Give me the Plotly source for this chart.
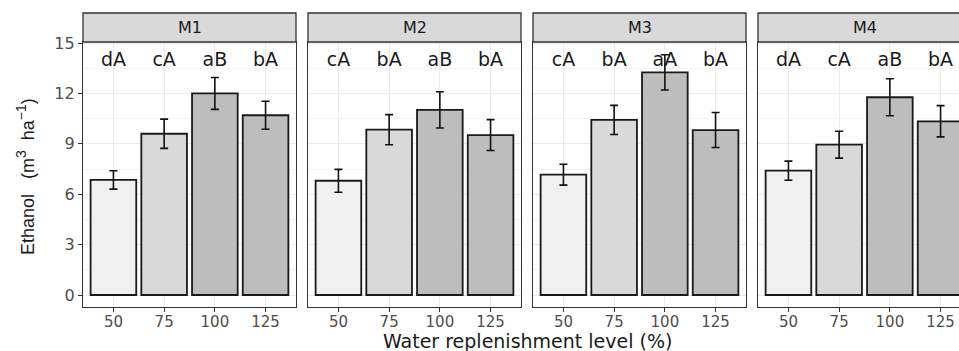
import plotly.graph_objects as go

# Water replenishment levels (%) and management systems
levels = ["50", "75", "100", "125"]
systems = ["M1", "M2", "M3", "M4"]

# Ethanol yield (m3 ha-1): means, error half-widths and letter groupings
m1_mean = [6.85, 9.6, 12.0, 10.7]
m1_err = [0.55, 0.87, 0.95, 0.83]
m1_letters = ["dA", "cA", "aB", "bA"]

m2_mean = [6.8, 9.84, 11.02, 9.52]
m2_err = [0.68, 0.9, 1.08, 0.92]
m2_letters = ["cA", "bA", "aB", "bA"]

m3_mean = [7.16, 10.42, 13.25, 9.82]
m3_err = [0.62, 0.87, 1.05, 1.04]
m3_letters = ["cA", "bA", "aA", "bA"]

m4_mean = [7.4, 8.95, 11.77, 10.34]
m4_err = [0.57, 0.8, 1.1, 0.93]
m4_letters = ["dA", "cA", "aB", "bA"]

y_ticks = [0, 3, 6, 9, 12, 15]

means = [m1_mean, m2_mean, m3_mean, m4_mean]
errs = [m1_err, m2_err, m3_err, m4_err]
letters = [m1_letters, m2_letters, m3_letters, m4_letters]

W, H = 959, 351
fills = ["#f0f0f0", "#d9d9d9", "#bdbdbd", "#bdbdbd"]
font_main = "DejaVu Sans"
dark = "#333333"
nb = "\u00a0"

# panel geometry in pixels
panel_left = [83, 308, 533, 758]
panel_w = 213
panel_top, panel_bottom = 42, 307
strip_top = 13
unit = panel_w / 4.2  # px per category step
x_pos = list(range(len(levels)))
letter_y = 13.9

fig = go.Figure()

for i, name in enumerate(systems):
    k = "" if i == 0 else str(i + 1)
    xa, ya = "x" + k, "y" + k
    fig.add_trace(go.Bar(
        x=x_pos, y=means[i], xaxis=xa, yaxis=ya, width=0.9,
        marker=dict(color=fills, line=dict(color="#1a1a1a", width=1.8)),
        error_y=dict(type="data", array=errs[i], color="#111111",
                     thickness=1.6, width=4),
        showlegend=False, hoverinfo="skip",
    ))
    fig.add_trace(go.Scatter(
        x=x_pos, y=[letter_y] * len(levels), xaxis=xa, yaxis=ya,
        mode="text", text=letters[i], textposition="middle center",
        textfont=dict(family=font_main, size=19, color="#1a1a1a"),
        showlegend=False, hoverinfo="skip", cliponaxis=False,
    ))

    left = panel_left[i]
    right = min(left + panel_w, W)
    x_end = -0.6 + (right - left) / unit
    last = i == len(systems) - 1

    fig.layout["xaxis" + k] = dict(
        domain=[left / W, right / W], anchor=ya, automargin=False,
        range=[-0.6, x_end], tickmode="array", tickvals=x_pos, ticktext=levels,
        showgrid=True, gridcolor="#ebebeb", gridwidth=1, zeroline=False,
        showline=True, mirror=True, linecolor=dark, linewidth=1.3,
        ticks="outside", ticklen=4, tickcolor=dark, tickwidth=1,
        ticklabelstandoff=-3,
        tickfont=dict(family=font_main, size=15, color="#4d4d4d"),
        fixedrange=True,
    )
    fig.layout["yaxis" + k] = dict(
        domain=[1 - panel_bottom / H, 1 - panel_top / H], anchor=xa,
        automargin=False,
        range=[-0.714, 15.06], tickmode="array", tickvals=y_ticks,
        showticklabels=(i == 0),
        showgrid=True, gridcolor="#ebebeb", gridwidth=1, zeroline=False,
        minor=dict(dtick=1.5, tick0=0, showgrid=True, gridcolor="#f4f4f4",
                   gridwidth=0.6, ticks=""),
        showline=True, mirror=not last, linecolor=dark, linewidth=1.3,
        ticks="outside" if i == 0 else "", ticklen=4, tickcolor=dark, tickwidth=1,
        tickfont=dict(family=font_main, size=16, color="#4d4d4d"),
        fixedrange=True,
    )

    # facet strip
    fig.add_shape(type="rect", xref=xa + " domain", yref="paper",
                  x0=0, x1=1.08 if last else 1,
                  y0=1 - panel_top / H, y1=1 - strip_top / H,
                  fillcolor="#d9d9d9", line=dict(color=dark, width=1.3),
                  layer="above")
    fig.add_annotation(x=1.5, xref=xa, y=1 - (strip_top + panel_top) / 2 / H,
                       yref="paper", yanchor="middle", xanchor="center",
                       text=name, showarrow=False,
                       font=dict(family=font_main, size=16, color="#1a1a1a"))

sup3 = "<sup><span style='font-size:14px'>3</span></sup>"
sup_m1 = "<sup><span style='font-size:14px'>\u22121</span></sup>"
fig.add_annotation(x=25 / W, y=1 - 177 / H, xref="paper", yref="paper",
                   xanchor="center", yanchor="middle", textangle=-90,
                   showarrow=False,
                   text=f"Ethanol{nb}{nb}{nb}(m{sup3}{nb}{nb}ha{sup_m1})",
                   font=dict(family="Liberation Sans", size=18, color="#1a1a1a"))
fig.add_annotation(x=527 / W, y=1 - 340.5 / H, xref="paper", yref="paper",
                   xanchor="center", yanchor="middle", showarrow=False,
                   text="Water replenishment level (%)",
                   font=dict(family=font_main, size=19, color="#1a1a1a"))

fig.update_layout(
    width=W, height=H,
    margin=dict(l=0, r=0, t=0, b=0, pad=0, autoexpand=False),
    paper_bgcolor="white", plot_bgcolor="white", bargap=0.1,
)

fig.write_html("out.html", config={"displayModeBar": False})
